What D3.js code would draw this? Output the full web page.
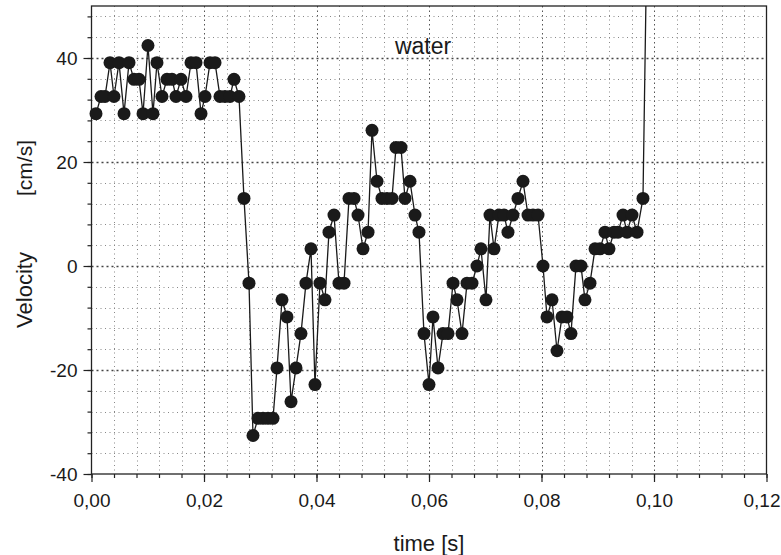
<!DOCTYPE html>
<html>
<head>
<meta charset="utf-8">
<script src="https://cdn.jsdelivr.net/npm/d3@7/dist/d3.min.js"></script>
<style>
  html, body { margin: 0; padding: 0; background: #fff; }
  svg { display: block; }
  text { font-family: "Liberation Sans", Arial, sans-serif; fill: #1a1a1a; }
</style>
</head>
<body>
<script>
// ---- data ----
const times = [
  0.00080, 0.00169, 0.00240, 0.00329, 0.00400, 0.00489, 0.00578, 0.00667, 0.00756, 0.00844,
  0.00916, 0.01004, 0.01093, 0.01164, 0.01253, 0.01342, 0.01431, 0.01502, 0.01591, 0.01680,
  0.01769, 0.01858, 0.01947, 0.02018, 0.02107, 0.02196, 0.02284, 0.02373, 0.02462, 0.02533,
  0.02622, 0.02711, 0.02800, 0.02871, 0.02960, 0.03049, 0.03138, 0.03227, 0.03298, 0.03387,
  0.03476, 0.03547, 0.03636, 0.03724, 0.03813, 0.03902, 0.03973, 0.04062, 0.04151, 0.04222,
  0.04311, 0.04400, 0.04489, 0.04578, 0.04667, 0.04738, 0.04827, 0.04916, 0.04987, 0.05076,
  0.05164, 0.05253, 0.05342, 0.05413, 0.05502, 0.05573, 0.05662, 0.05751, 0.05822, 0.05911,
  0.06000, 0.06071, 0.06160, 0.06249, 0.06338, 0.06427, 0.06498, 0.06587, 0.06676, 0.06764,
  0.06853, 0.06924, 0.07013, 0.07084, 0.07156, 0.07244, 0.07333, 0.07404, 0.07493, 0.07582,
  0.07671, 0.07760, 0.07849, 0.07938, 0.08027, 0.08098, 0.08187, 0.08276, 0.08364, 0.08453,
  0.08524, 0.08613, 0.08702, 0.08773, 0.08862, 0.08951, 0.09040, 0.09129, 0.09200, 0.09289,
  0.09360, 0.09449, 0.09520, 0.09609, 0.09698, 0.09804, 0.09890
];
const velocities = [
  29.3, 32.6, 32.6, 39.1, 32.6, 39.1, 29.3, 39.1, 35.9, 35.9,
  29.3, 42.4, 29.3, 39.1, 32.6, 35.9, 35.9, 32.6, 35.9, 32.6,
  39.1, 39.1, 29.3, 32.6, 39.1, 39.1, 32.6, 32.6, 32.6, 35.9,
  32.6, 13.0, -3.3, -32.6, -29.3, -29.3, -29.3, -29.3, -19.6, -6.5,
  -9.8, -26.1, -19.6, -13.0, -3.3, 3.3, -22.8, -3.3, -6.5, 6.5,
  9.8, -3.3, -3.3, 13.0, 13.0, 9.8, 3.3, 6.5, 26.1, 16.3,
  13.0, 13.0, 13.0, 22.8, 22.8, 13.0, 16.3, 9.8, 6.5, -13.0,
  -22.8, -9.8, -19.6, -13.0, -13.0, -3.3, -6.5, -13.0, -3.3, -3.3,
  0.0, 3.3, -6.5, 9.8, 3.3, 9.8, 9.8, 6.5, 9.8, 13.0,
  16.3, 9.8, 9.8, 9.8, 0.0, -9.8, -6.5, -16.3, -9.8, -9.8,
  -13.0, 0.0, 0.0, -6.5, -3.3, 3.3, 3.3, 6.5, 3.3, 6.5,
  6.5, 9.8, 6.5, 9.8, 6.5, 13.0, 75.0
];
// last sample is off-scale (beyond the top of the chart); drawn as a line only
const xTickValues = [0, 0.02, 0.04, 0.06, 0.08, 0.10, 0.12];
const xTickLabels = ["0,00", "0,02", "0,04", "0,06", "0,08", "0,10", "0,12"];
const yTickValues = [-40, -20, 0, 20, 40];
const yTickLabels = ["-40", "-20", "0", "20", "40"];
const xMinorStep = 0.004;
const yMinorStep = 4;
const chartTitle = "water";
const xTitle = "time [s]";
const yTitleA = "Velocity";
const yTitleB = "[cm/s]";

// ---- layout ----
const W = 781, H = 555;
const L = 91.5, R = 766.5, T = 6, B = 474;

const svg = d3.select("body").append("svg").attr("width", W).attr("height", H);

const x = d3.scaleLinear().domain([0, 0.12]).range([L, R]);
const y = d3.scaleLinear().domain([-40, 50]).range([B, T]);

// grid
const xMinor = d3.range(0, 0.12 + 1e-9, xMinorStep).map(v => +v.toFixed(4));
const yMinor = d3.range(-40, 50 + 1e-9, yMinorStep);
const isMajorX = v => Math.abs(v / 0.02 - Math.round(v / 0.02)) < 1e-6;
const isMajorY = v => v % 20 === 0;

const grid = svg.append("g");
grid.selectAll("line.vx").data(xMinor.filter(v => v > 0 && v < 0.12)).join("line")
  .attr("x1", d => Math.round(x(d)) + 0.5).attr("x2", d => Math.round(x(d)) + 0.5)
  .attr("y1", T).attr("y2", B)
  .attr("stroke", d => isMajorX(d) ? "#555" : "#888")
  .attr("stroke-width", 1)
  .attr("stroke-dasharray", d => isMajorX(d) ? "1.5,3" : "1,3.5");
grid.selectAll("line.hy").data(yMinor.filter(v => v > -40 && v < 50)).join("line")
  .attr("y1", d => Math.round(y(d)) + 0.5).attr("y2", d => Math.round(y(d)) + 0.5)
  .attr("x1", L).attr("x2", R)
  .attr("stroke", d => isMajorY(d) ? "#444" : "#888")
  .attr("stroke-width", d => isMajorY(d) ? 1.3 : 1)
  .attr("stroke-dasharray", d => isMajorY(d) ? "2,3" : "1,3.5");

// axes
const xAxis = d3.axisBottom(x).tickValues(xTickValues)
  .tickFormat((d, i) => xTickLabels[i]).tickSize(8).tickPadding(12);
const xAxisMinor = d3.axisBottom(x).tickValues(xMinor).tickFormat("").tickSize(4);
const yAxis = d3.axisLeft(y).tickValues(yTickValues)
  .tickFormat((d, i) => yTickLabels[i]).tickSize(8).tickPadding(6);
const yAxisMinor = d3.axisLeft(y).tickValues(yMinor).tickFormat("").tickSize(4);

function styleAxis(g) {
  g.select(".domain").remove();
  g.selectAll("line").attr("stroke", "#222").attr("stroke-width", 1.2);
  g.selectAll("text").attr("font-size", 19).attr("fill", "#1a1a1a")
    .attr("font-family", '"Liberation Sans", Arial, sans-serif');
}
svg.append("g").attr("transform", `translate(0,${B})`).call(xAxisMinor).call(styleAxis);
const gx = svg.append("g").attr("transform", `translate(0,${B})`).call(xAxis).call(styleAxis);
// keep the last label inside the page edge
gx.selectAll(".tick text").filter(d => d === 0.12)
  .attr("text-anchor", "end").attr("dx", W - 1 - R);
svg.append("g").attr("transform", `translate(${L},0)`).call(yAxisMinor).call(styleAxis);
svg.append("g").attr("transform", `translate(${L},0)`).call(yAxis).call(styleAxis);

// frame
svg.append("rect").attr("x", L).attr("y", T).attr("width", R - L).attr("height", B - T)
  .attr("fill", "none").attr("stroke", "#222").attr("stroke-width", 1.3);

// data
svg.append("clipPath").attr("id", "clip").append("rect")
  .attr("x", 0).attr("y", T).attr("width", W).attr("height", H - T);

const pts = times.map((t, i) => ({ t, v: velocities[i] }));
const plot = svg.append("g").attr("clip-path", "url(#clip)");
plot.append("path").datum(pts)
  .attr("d", d3.line().x(d => x(d.t)).y(d => y(d.v)))
  .attr("fill", "none").attr("stroke", "#1a1a1a").attr("stroke-width", 1.3);
plot.selectAll("circle").data(pts.filter(d => d.v <= 50)).join("circle")
  .attr("cx", d => x(d.t)).attr("cy", d => y(d.v)).attr("r", 6.5)
  .attr("fill", "#1a1a1a");

// texts
svg.append("text").attr("x", 423).attr("y", 54).attr("text-anchor", "middle")
  .attr("font-size", 23).text(chartTitle);
svg.append("text").attr("x", 429).attr("y", 551).attr("text-anchor", "middle")
  .attr("font-size", 22).text(xTitle);
svg.append("text").attr("transform", "translate(32,290) rotate(-90)")
  .attr("text-anchor", "middle").attr("font-size", 22).text(yTitleA);
svg.append("text").attr("transform", "translate(32,168) rotate(-90)")
  .attr("text-anchor", "middle").attr("font-size", 21).text(yTitleB);
</script>
</body>
</html>
